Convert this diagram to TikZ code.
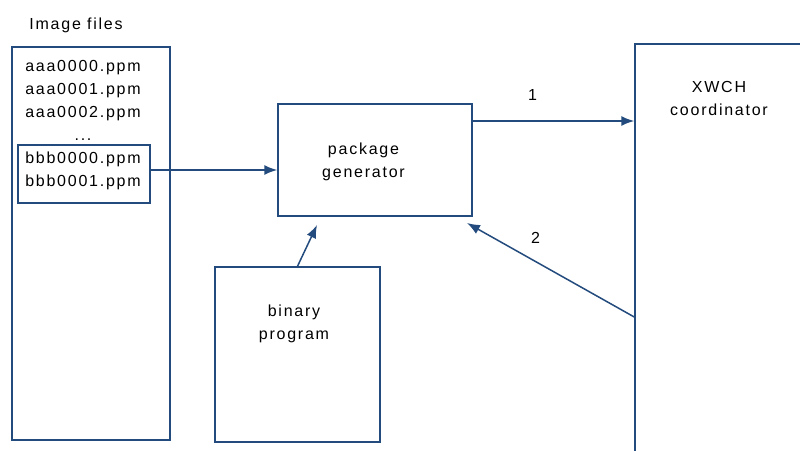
\documentclass[tikz,border=0pt]{standalone}
\usepackage{fontspec}
\setmainfont{Liberation Sans}[LetterSpace=11]
\usetikzlibrary{arrows.meta}
\definecolor{myblue}{RGB}{35,75,125}

\begin{document}
\begin{tikzpicture}[x=1pt, y=-1pt, >={Latex[length=13pt,width=10pt]}, font=\fontsize{16}{23}\selectfont,
		box/.style={draw=myblue, line width=1.5pt, inner sep=0pt},
		txt/.style={align=center, inner sep=0pt},
		arr/.style={->, draw=myblue, fill=myblue, line width=1.5pt}]
				%Bildbereich
				\useasboundingbox (0,0) rectangle (800,450);
				% Kaesten zeichnen
				\node[box, minimum width=158pt, minimum height=393pt] (files) at (91,243.5) {};
				\node[box, minimum width=132pt, minimum height=58pt] (sel) at (84,174) {};
				\node[box, minimum width=194pt, minimum height=112pt] (gen) at (375,160) {};
				\node[box, minimum width=165pt, minimum height=175pt] (bin) at (297.5,354.5) {};
				\node[box, minimum width=180pt, minimum height=426pt] (xwch) at (725,257) {};
				% Beschriftung
				\node[txt] (title) at (76,25.5) {Image files};
				\node[txt, anchor=north] (aaa) at (83,60) {aaa0000.ppm\\aaa0001.ppm\\aaa0002.ppm\\...};
				\node[txt, anchor=north] (bbb) at (83,152) {bbb0000.ppm\\bbb0001.ppm};
				\node[txt, anchor=north] (gentxt) at (363.5,143) {package\\generator};
				\node[txt, anchor=north] (bintxt) at (294,305) {binary\\program};
				\node[txt, anchor=north] (xwchtxt) at (719,81) {XWCH\\coordinator};
				% Pfeile zeichnen
				\coordinate (binin) at (317,225);
				\coordinate (back) at (467,223);
				\draw[arr] (sel.east |- 0,170) -- (gen.west |- 0,170);
				\draw[arr] (bin.north) -- (binin);
				\draw[arr] (gen.east |- 0,121) -- node[txt, pos=.37, above=19.5pt, fill=none] (one) {1} (xwch.west |- 0,121);
				\draw[arr] (xwch.west |- 0,317) -- node[txt, pos=.59, above=17.5pt, fill=none] (two) {2} (back);
		\end{tikzpicture}
\end{document}
